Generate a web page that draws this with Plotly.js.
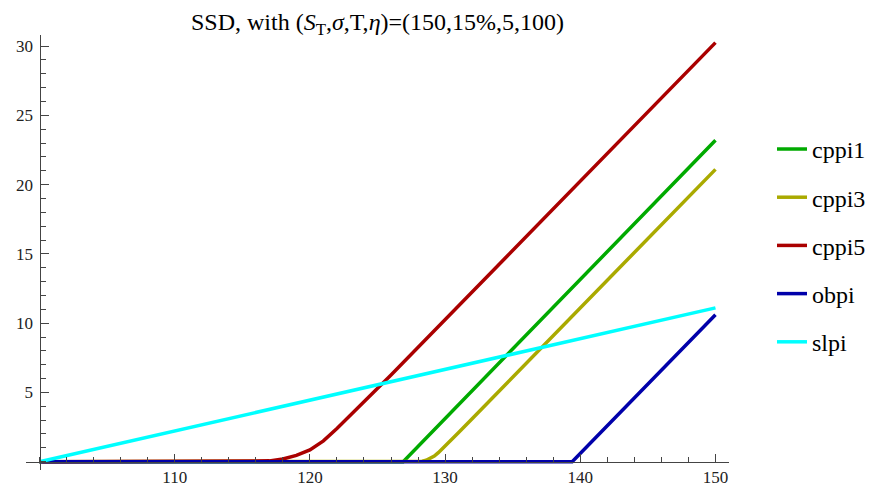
<!DOCTYPE html>
<html>
<head>
<meta charset="utf-8">
<script src="https://cdn.plot.ly/plotly-3.0.1.min.js"></script>
<style>
html,body{margin:0;padding:0;background:#fff;}
#chart{width:875px;height:490px;}
#chart text{font-family:"Liberation Serif","Times New Roman",serif !important;}
</style>
</head>
<body>
<div id="chart"></div>
<script>
// Series data
const cppi1X = [100, 126.9, 150];
const cppi1Y = [0, 0, 23.2];

const cppi3X = [100, 128, 128.3, 128.6, 128.9, 129.2, 129.5, 130, 130.5, 131, 132, 150];
const cppi3Y = [0, 0, 0.04, 0.1, 0.22, 0.4, 0.65, 1.11, 1.6, 2.1, 3.1, 21.1];

const cppi5X = [100, 116, 116.5, 117, 118, 119, 120, 121, 122, 123, 124, 125, 126, 150];
const cppi5Y = [0, 0, 0.02, 0.06, 0.2, 0.45, 0.85, 1.5, 2.4, 3.35, 4.3, 5.27, 6.25, 30.25];

const obpiX = [100, 139.4, 150];
const obpiY = [0, 0, 10.6];

const slpiX = [100, 125, 150];
const slpiY = [0, 5.55, 11.1];

const seriesNames = ["cppi1", "cppi3", "cppi5", "obpi", "slpi"];
const seriesColors = ["#00AA00", "#AAAA00", "#AA0000", "#0000AA", "#00FFFF"];

const xTickVals = [110, 120, 130, 140, 150];
const yTickVals = [5, 10, 15, 20, 25, 30];

const xRange = [99, 151];
const yRange = [-0.6, 30.8];

const allX = [cppi1X, cppi3X, cppi5X, obpiX, slpiX];
const allY = [cppi1Y, cppi3Y, cppi5Y, obpiY, slpiY];

const traces = seriesNames.map((name, i) => ({
  type: "scatter",
  mode: "lines",
  name: name,
  legendgroup: name,
  x: allX[i],
  y: allY[i],
  line: {color: seriesColors[i], width: 3.5},
  hoverinfo: "skip"
}));

const serif = "Liberation Serif";

const layout = {
  width: 875,
  height: 490,
  paper_bgcolor: "#fff",
  plot_bgcolor: "#fff",
  font: {family: serif, color: "#000"},
  margin: {l: 26, r: 146, t: 35, b: 20},
  title: {
    text: "SSD, with (<i>S</i><sub>T</sub>,<i>σ</i>,T,<i>η</i>)=(150,15%,5,100)",
    font: {family: serif, size: 24},
    x: 0.5, xref: "paper", xanchor: "center",
    y: 0.955, yref: "container", yanchor: "middle"
  },
  xaxis: {
    range: xRange,
    anchor: "free",
    position: (0 - yRange[0]) / (yRange[1] - yRange[0]),
    showline: true, linecolor: "#444", linewidth: 1,
    showgrid: false, zeroline: false,
    tickmode: "array", tickvals: xTickVals,
    ticks: "inside", ticklen: 8, tickcolor: "#444", tickwidth: 1,
    tickfont: {family: serif, size: 17, color: "#222"},
    minor: {tickmode: "linear", tick0: 100, dtick: 2, ticks: "inside", ticklen: 5, tickcolor: "#444", tickwidth: 1, showgrid: false}
  },
  yaxis: {
    range: yRange,
    anchor: "free",
    position: (100 - xRange[0]) / (xRange[1] - xRange[0]),
    showline: true, linecolor: "#444", linewidth: 1,
    showgrid: false, zeroline: false,
    tickmode: "array", tickvals: yTickVals,
    ticks: "inside", ticklen: 8, tickcolor: "#444", tickwidth: 1,
    tickfont: {family: serif, size: 17, color: "#222"},
    ticklabelstandoff: 3,
    minor: {tickmode: "linear", tick0: 0, dtick: 1, ticks: "inside", ticklen: 5, tickcolor: "#444", tickwidth: 1, showgrid: false}
  },
  showlegend: true,
  legend: {
    x: 0.8823, xref: "container", xanchor: "left",
    y: 0.741, yref: "container", yanchor: "top",
    font: {family: serif, size: 24, color: "#000"},
    tracegroupgap: 14,
    bgcolor: "rgba(0,0,0,0)",
    borderwidth: 0
  }
};

Plotly.newPlot("chart", traces, layout, {displayModeBar: false, staticPlot: true});
</script>
</body>
</html>
